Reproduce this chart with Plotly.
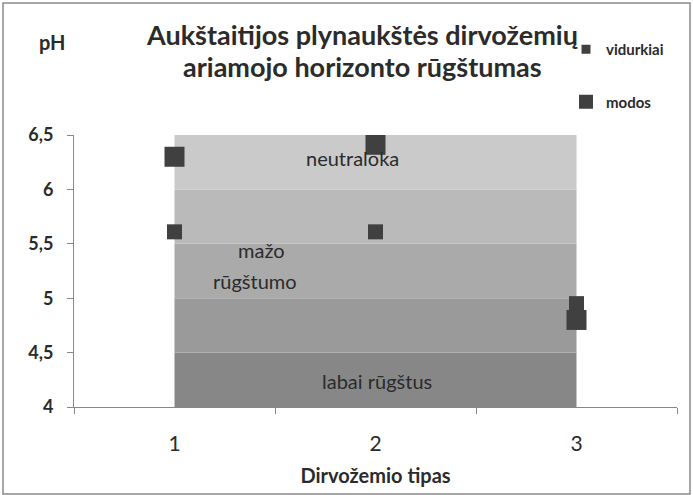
import plotly.graph_objects as go

categories = ["1", "2", "3"]
band_edges = [4.0, 4.5, 5.0, 5.5, 6.0, 6.5]
band_colors = ["#878787", "#9a9a9a", "#aaaaaa", "#bababa", "#cacaca"]
vidurkiai = [5.61, 5.61, 4.95]
modos = [6.30, 6.41, 4.80]
# band label texts with positions (category index, pH)
band_label_text = ["neutraloka", "mažo", "rūgštumo", "labai rūgštus"]
band_label_x = [0.885, 0.435, 0.40, 1.005]
band_label_y = [6.29, 5.44, 5.16, 4.24]
title_lines = ["Aukštaitijos plynaukštės dirvožemių", "ariamojo horizonto rūgštumas"]

FONT = "Lato"
TXT = "#2b2b2b"
MARK = "#404040"

L, T, W, H = 74, 135, 603, 272


def px(x):
    return (x - L) / W


def py(y):
    return (T + H - y) / H


fig = go.Figure()

# background bands (areas between consecutive edges)
fig.add_trace(go.Scatter(x=categories, y=[band_edges[0]] * len(categories), mode="lines",
                         line=dict(width=0), showlegend=False, hoverinfo="skip"))
for i, col in enumerate(band_colors):
    fig.add_trace(go.Scatter(x=categories, y=[band_edges[i + 1]] * len(categories),
                             mode="lines", line=dict(width=0), fill="tonexty",
                             fillcolor=col, showlegend=False, hoverinfo="skip"))

# data markers
fig.add_trace(go.Scatter(x=categories, y=vidurkiai, mode="markers",
                         marker=dict(symbol="square", size=15, color=MARK),
                         showlegend=False, name="vidurkiai"))
fig.add_trace(go.Scatter(x=categories, y=modos, mode="markers",
                         marker=dict(symbol="square", size=20, color=MARK),
                         showlegend=False, name="modos"))

# legend entries (smaller symbols as in original)
fig.add_trace(go.Scatter(x=[None], y=[None], mode="markers", name="vidurkiai",
                         marker=dict(symbol="square", size=9, color=MARK),
                         legendgroup="a"))
fig.add_trace(go.Scatter(x=[None], y=[None], mode="markers", name="modos",
                         marker=dict(symbol="square", size=14, color=MARK),
                         legendgroup="b"))

for t, x, y in zip(band_label_text, band_label_x, band_label_y):
    fig.add_annotation(x=x, y=y, xref="x", yref="y", text=t, showarrow=False,
                       xanchor="center", yanchor="middle",
                       font=dict(family=FONT, size=20, color=TXT))

for i, line in enumerate(title_lines):
    fig.add_annotation(x=px(362), y=py(34 + 32 * i), xref="paper", yref="paper",
                       text="<b>" + line + "</b>", showarrow=False,
                       xanchor="center", yanchor="middle",
                       font=dict(family=FONT, size=27, color=TXT))

fig.add_annotation(x=px(52), y=py(42), xref="paper", yref="paper", text="<b>pH</b>",
                   showarrow=False, xanchor="center", yanchor="middle",
                   font=dict(family=FONT, size=20, color=TXT))

# outer frame
fig.add_shape(type="rect", xref="paper", yref="paper",
              x0=px(3), x1=px(690), y0=py(494), y1=py(3),
              line=dict(color="#8a8a8a", width=1.5), fillcolor="rgba(0,0,0,0)")

fig.update_layout(
    width=693, height=495,
    margin=dict(l=L, r=693 - L - W, t=T, b=495 - T - H, autoexpand=False),
    paper_bgcolor="white", plot_bgcolor="white",
    separators=", ",
    legend=dict(x=px(566), y=py(33), xanchor="left", yanchor="top",
                font=dict(family=FONT, size=15, color=TXT, weight="bold"),
                tracegroupgap=30, itemsizing="trace", bgcolor="rgba(0,0,0,0)"),
    showlegend=True,
)

fig.update_xaxes(type="category", range=[-0.5, 2.5], tickson="boundaries",
                 ticks="outside", ticklen=6, tickcolor="#888888",
                 showline=True, linecolor="#888888", linewidth=1, showgrid=False,
                 zeroline=False, ticklabelstandoff=18,
                 tickfont=dict(family=FONT, size=21, color=TXT),
                 title=dict(text="<b>Dirvožemio tipas</b>", standoff=14,
                            font=dict(family=FONT, size=20, color=TXT)))
fig.update_yaxes(range=[4, 6.5], dtick=0.5, tick0=4, ticks="outside", ticklen=6,
                 tickcolor="#888888", showline=True, linecolor="#888888", linewidth=1,
                 showgrid=False, zeroline=False, ticklabelstandoff=10,
                 tickfont=dict(family=FONT, size=18, color=TXT, weight="bold"))

fig.write_html("out.html", config={"displayModeBar": False},
               post_script="document.body.style.margin='0px';")
